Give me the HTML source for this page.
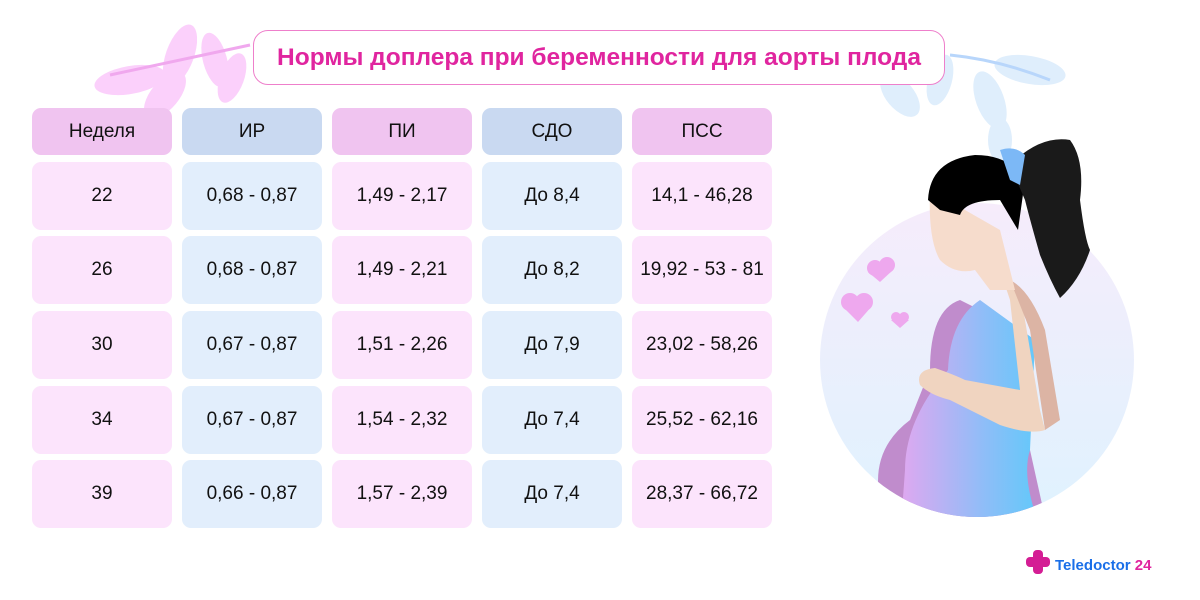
<!DOCTYPE html>
<html><head><meta charset="utf-8"><style>
body{margin:0;width:1200px;height:600px;background:#fff;position:relative;overflow:hidden;font-family:"Liberation Sans","Noto Sans CJK SC",sans-serif}
.c{position:absolute;width:140px;display:flex;align-items:center;justify-content:center;border-radius:9px;font-size:19px;color:#111}
.t{position:absolute;left:253px;top:30px;width:690px;height:53px;border:1.5px solid #ee7fcb;border-radius:15px;background:#fff;display:flex;align-items:center;justify-content:center;color:#e0259f;font-weight:bold;font-size:24.5px}
</style></head><body>
<svg style="position:absolute;left:0;top:0" width="1200" height="600">
<g fill="#fbd0fb">
<ellipse cx="130" cy="80" rx="36" ry="14" transform="rotate(-10 130 80)"/>
<ellipse cx="180" cy="55" rx="14" ry="32" transform="rotate(20 180 55)"/>
<ellipse cx="215" cy="60" rx="12" ry="28" transform="rotate(-15 215 60)"/>
<ellipse cx="165" cy="95" rx="14" ry="28" transform="rotate(40 165 95)"/>
<ellipse cx="232" cy="78" rx="12" ry="26" transform="rotate(20 232 78)"/>
</g>
<path d="M110 75 Q180 60 250 45" stroke="#f0a8ee" stroke-width="3" fill="none"/>
<g fill="#dfeefc">
<ellipse cx="1030" cy="70" rx="36" ry="14" transform="rotate(10 1030 70)"/>
<ellipse cx="990" cy="100" rx="14" ry="30" transform="rotate(-20 990 100)"/>
<ellipse cx="940" cy="80" rx="12" ry="26" transform="rotate(15 940 80)"/>
<ellipse cx="900" cy="95" rx="14" ry="26" transform="rotate(-40 900 95)"/>
<ellipse cx="1000" cy="140" rx="12" ry="22"/>
</g>
<path d="M950 55 Q1000 60 1050 80" stroke="#b8d6fb" stroke-width="3" fill="none"/>
<defs>
<linearGradient id="bg" x1="0" y1="0" x2="0" y2="1"><stop offset="0" stop-color="#f6ecfb"/><stop offset="1" stop-color="#dff2fe"/></linearGradient>
<linearGradient id="dr" x1="0" y1="0" x2="1" y2="0"><stop offset="0" stop-color="#e0a8f0"/><stop offset="0.6" stop-color="#8cbef8"/><stop offset="1" stop-color="#5ccafa"/></linearGradient>
<clipPath id="cc"><circle cx="977" cy="360" r="157"/></clipPath>
</defs>
<circle cx="977" cy="360" r="157" fill="url(#bg)"/>
<g clip-path="url(#cc)">
<path d="M960 300 Q930 310 930 370 L910 420 Q870 450 880 500 L1050 540 L1030 450 L1020 330 Z" fill="#c08ccc"/>
<path d="M980 300 Q950 320 948 370 Q905 420 905 470 L900 540 L1045 540 Q1020 480 1030 450 L1035 340 Z" fill="url(#dr)"/>
</g>
<path d="M1000 270 L1020 290 L1040 410 L1045 430 Q1030 435 1000 425 L950 400 Q930 395 920 385 Q915 370 935 368 Q955 375 965 380 L1020 390 L1010 300 Z" fill="#f0d4c0"/>
<path d="M1010 280 Q1030 290 1045 330 L1060 420 L1045 430 L1030 330 Z" fill="#dcb4a4"/>
<path d="M930 190 Q928 240 940 260 Q955 275 975 270 L990 290 L1015 290 L1000 230 Z" fill="#f6dccc"/>
<path d="M928 200 Q930 160 975 155 Q1010 155 1025 180 L1018 230 L1000 200 Q965 200 960 215 L940 210 Z" fill="#000"/>
<path d="M1010 165 Q1040 135 1070 140 Q1085 160 1080 200 Q1085 240 1090 250 Q1080 280 1060 298 Q1050 280 1040 255 Q1030 220 1025 200 Z" fill="#1a1a1a"/>
<path d="M1000 150 Q1015 145 1025 155 L1020 185 L1010 180 Z" fill="#7cb8f6"/>
<g fill="#eea8ee"><circle cx="875" cy="268" r="8"/><circle cx="887" cy="265" r="8"/><path d="M868 272 L880 282 L893 270 Z"/>
<circle cx="850" cy="302" r="9"/><circle cx="864" cy="302" r="9"/><path d="M842 306 L858 322 L872 306 Z"/>
<circle cx="896" cy="317" r="5"/><circle cx="904" cy="317" r="5"/><path d="M891 320 L900 328 L909 320 Z"/></g>
<g fill="#d41d94"><rect x="1026" y="557" width="24" height="10" rx="4"/><rect x="1033" y="550" width="10" height="24" rx="4"/></g>
<text x="1055" y="570" font-family="Liberation Sans" font-size="15" font-weight="bold" fill="#1a6fe8">Teledoctor <tspan fill="#e0259f">24</tspan></text>
</svg>
<div class="t">Нормы доплера при беременности для аорты плода</div>
<div class="c" style="left:32px;top:108px;height:47px;background:#f0c4f0">Неделя</div>
<div class="c" style="left:182px;top:108px;height:47px;background:#c9d9f1">ИР</div>
<div class="c" style="left:332px;top:108px;height:47px;background:#f0c4f0">ПИ</div>
<div class="c" style="left:482px;top:108px;height:47px;background:#c9d9f1">СДО</div>
<div class="c" style="left:632px;top:108px;height:47px;background:#f0c4f0">ПСС</div>

<div class="c" style="left:32px;top:162px;height:68px;background:#fce4fc">22</div>
<div class="c" style="left:182px;top:162px;height:68px;background:#e2eefc">0,68 - 0,87</div>
<div class="c" style="left:332px;top:162px;height:68px;background:#fce4fc">1,49 - 2,17</div>
<div class="c" style="left:482px;top:162px;height:68px;background:#e2eefc">До 8,4</div>
<div class="c" style="left:632px;top:162px;height:68px;background:#fce4fc">14,1 - 46,28</div>

<div class="c" style="left:32px;top:236px;height:68px;background:#fce4fc">26</div>
<div class="c" style="left:182px;top:236px;height:68px;background:#e2eefc">0,68 - 0,87</div>
<div class="c" style="left:332px;top:236px;height:68px;background:#fce4fc">1,49 - 2,21</div>
<div class="c" style="left:482px;top:236px;height:68px;background:#e2eefc">До 8,2</div>
<div class="c" style="left:632px;top:236px;height:68px;background:#fce4fc">19,92 - 53 - 81</div>

<div class="c" style="left:32px;top:311px;height:68px;background:#fce4fc">30</div>
<div class="c" style="left:182px;top:311px;height:68px;background:#e2eefc">0,67 - 0,87</div>
<div class="c" style="left:332px;top:311px;height:68px;background:#fce4fc">1,51 - 2,26</div>
<div class="c" style="left:482px;top:311px;height:68px;background:#e2eefc">До 7,9</div>
<div class="c" style="left:632px;top:311px;height:68px;background:#fce4fc">23,02 - 58,26</div>

<div class="c" style="left:32px;top:386px;height:68px;background:#fce4fc">34</div>
<div class="c" style="left:182px;top:386px;height:68px;background:#e2eefc">0,67 - 0,87</div>
<div class="c" style="left:332px;top:386px;height:68px;background:#fce4fc">1,54 - 2,32</div>
<div class="c" style="left:482px;top:386px;height:68px;background:#e2eefc">До 7,4</div>
<div class="c" style="left:632px;top:386px;height:68px;background:#fce4fc">25,52 - 62,16</div>

<div class="c" style="left:32px;top:460px;height:68px;background:#fce4fc">39</div>
<div class="c" style="left:182px;top:460px;height:68px;background:#e2eefc">0,66 - 0,87</div>
<div class="c" style="left:332px;top:460px;height:68px;background:#fce4fc">1,57 - 2,39</div>
<div class="c" style="left:482px;top:460px;height:68px;background:#e2eefc">До 7,4</div>
<div class="c" style="left:632px;top:460px;height:68px;background:#fce4fc">28,37 - 66,72</div>
</body></html>
